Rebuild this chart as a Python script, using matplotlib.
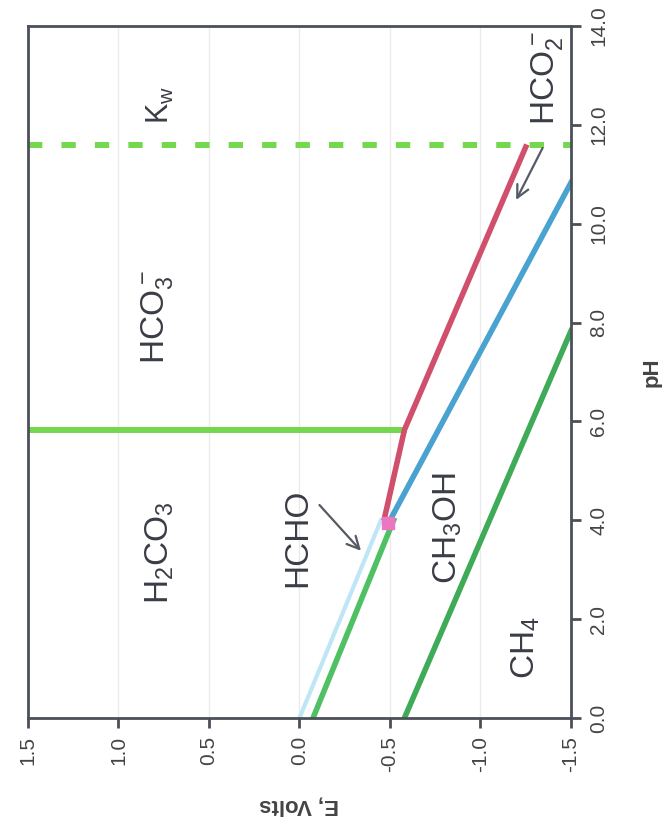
import matplotlib
matplotlib.use('Agg')
import matplotlib.pyplot as plt
import numpy as np

plt.rcParams['font.family'] = ['Liberation Sans', 'DejaVu Sans']
plt.rcParams['mathtext.default'] = 'regular'

kw_ph = 11.6
pka_ph = 5.83
pka_E = [1.5, -0.58]
hcho_E = [0.0, -0.45]
hcho_ph = [0.0, 4.0]
ch3oh_E = [-0.075, -0.52]
ch3oh_ph = [0.0, 4.0]
formate_E = [-0.47, -0.52, -0.58, -1.25]
formate_ph = [4.05, 4.86, 5.83, 11.55]
methanol_E = [-0.50, -1.5]
methanol_ph = [4.0, 10.83]
ch4_E = [-0.58, -1.5]
ch4_ph = [0.0, 7.83]
triple_E = [-0.49]
triple_ph = [3.95]

e_ticks = [1.5, 1.0, 0.5, 0.0, -0.5, -1.0, -1.5]
ph_ticks = [0, 2, 4, 6, 8, 10, 12, 14]

labels = [r'K$_w$', r'HCO$_3^-$', r'H$_2$CO$_3$', 'HCHO', r'CH$_3$OH', r'CH$_4$', r'HCO$_2^-$']
label_E = [0.77, 0.79, 0.77, 0.01, -0.82, -1.25, -1.37]
label_ph = [12.4, 8.1, 3.35, 3.65, 3.85, 1.42, 12.95]
label_size = [22, 24, 24, 24, 24, 24, 24]

fig = plt.figure(figsize=(6.62, 8.26), dpi=100)
ax = fig.add_axes([0.0423, 0.1308, 0.8202, 0.8378])

ax.plot([1.5, -1.5], [kw_ph, kw_ph], color='#74d84e', linewidth=4.3,
        dashes=(2.4, 3.2), solid_capstyle='butt')
ax.plot(pka_E, [pka_ph, pka_ph], color='#74d84e', linewidth=4.3)
ax.plot(hcho_E, hcho_ph, color='#bfe6f6', linewidth=3)
ax.plot(ch3oh_E, ch3oh_ph, color='#4fc064', linewidth=4)
ax.plot(formate_E, formate_ph, color='#d04f6c', linewidth=4)
ax.plot(methanol_E, methanol_ph, color='#4aa2d0', linewidth=4)
ax.plot(ch4_E, ch4_ph, color='#3fab58', linewidth=4)
ax.plot(triple_E, triple_ph, marker='s', markersize=9, color='#ec76c4', linestyle='none')

for txt, e, p, s in zip(labels, label_E, label_ph, label_size):
    ax.text(e, p, txt, rotation=90, fontsize=s, color='#3a3d45', ha='center', va='center')

ax.annotate('', xy=(-0.35, 3.34), xytext=(-0.10, 4.35),
            arrowprops=dict(arrowstyle='->', color='#555a64', lw=1.6, mutation_scale=22))
ax.annotate('', xy=(-1.19, 10.43), xytext=(-1.35, 11.58),
            arrowprops=dict(arrowstyle='->', color='#555a64', lw=1.6, mutation_scale=22))

ax.set_xlim(1.5, -1.5)
ax.set_ylim(0, 14)
ax.set_xticks(e_ticks)
ax.set_xticklabels([f'{v:.1f}' for v in e_ticks], rotation=90, fontsize=15, color='#444')
ax.yaxis.tick_right()
ax.yaxis.set_label_position('right')
ax.set_yticks(ph_ticks)
ax.set_yticklabels([f'{v:.1f}' for v in ph_ticks], rotation=90, fontsize=15, color='#444', va='center')
ax.tick_params(direction='out', length=7, width=2, color='#4a4f5a', pad=6)
ax.grid(axis='x', color='#ebebeb', linewidth=1)
ax.set_axisbelow(True)
for sp in ax.spines.values():
    sp.set_color('#4a4f5a')
    sp.set_linewidth(2)

ax.set_ylabel('pH', rotation=90, fontsize=16, fontweight='bold', color='#444', labelpad=24)
ax.set_xlabel('E, Volts', rotation=180, fontsize=16, fontweight='bold', color='#444', labelpad=16)

plt.savefig('out.png', dpi=100)
